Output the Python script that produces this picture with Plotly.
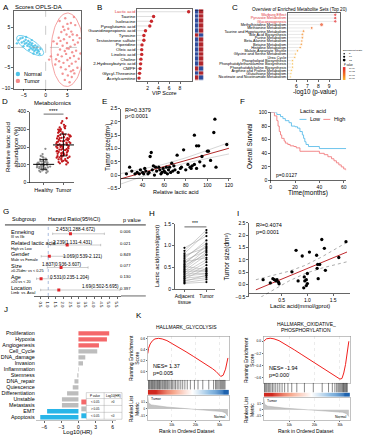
import numpy as np
import plotly.graph_objects as go

W, H = 365, 440
FONT = "Liberation Sans"

# ================= DATA =================
# A: OPLS-DA scores
normal_x = [-6.2,-5.8,-5.5,-5.3,-5.0,-4.8,-4.6,-4.4,-4.2,-4.0,-3.9,-3.7,-3.6,-3.4,-3.3,-3.1,-3.0,-2.9,-2.7,-2.6,-2.4,-2.3,-2.1,-2.0,-1.8,-1.6,-1.4,-1.2,-5.1,-4.5,-3.8,-2.8,-6.6,-1.9,-3.2]
normal_y = [1.8,2.2,1.2,2.4,1.5,0.9,1.9,1.1,0.4,1.6,0.8,0.2,1.2,-0.2,0.6,1.0,-0.5,0.3,-0.1,-0.9,0.5,-0.6,-0.2,-1.3,-0.7,-1.0,-1.6,-0.4,0.3,2.6,-0.6,-1.5,1.0,0.2,1.8]
tumor_x = [3.2,4.5,5.8,6.5,4.0,5.2,6.8,3.6,4.8,5.9,7.2,3.0,4.2,5.5,6.3,7.4,2.6,3.9,4.9,5.7,6.7,3.3,4.4,5.3,6.1,7.0,2.8,3.7,4.7,5.6,6.5,7.6,3.1,4.1,5.0,6.0,6.9,3.5,4.6,5.4,6.3,7.3,3.9,5.1,6.0,4.4,5.5,6.6,2.4,8.0,1.8,4.3,5.0,6.2,3.4,5.8,4.9,2.2,7.8,0.8,1.2]
tumor_y = [6.5,7.2,6.0,7.5,5.1,4.6,5.5,3.8,3.2,3.9,3.0,2.4,2.0,2.6,1.8,1.2,0.9,0.4,1.1,0.2,0.7,-0.5,-0.9,-0.3,-1.2,-0.8,-1.8,-2.2,-1.6,-2.6,-2.1,-2.8,-3.4,-3.8,-3.1,-4.0,-3.5,-4.9,-5.4,-4.6,-5.6,-5.0,-6.5,-6.9,-7.3,-8.0,-8.6,-6.4,-2.9,-1.5,1.5,4.3,5.8,3.2,1.6,-5.9,-0.2,-4.2,2.3,-3.0,-2.2]

# B: VIP scores
vip_names = ["Lactic acid","Taurine","Isoleucine","Pyroglutamic acid","Guanidinopropionic acid","Tyrosine",
             "Testosterone sulfate","Piperidine","Oleic acid","Linoleic acid","Choline",
             "2-Hydroxybutyric acid","CMPF","Glycyl-Threonine","Acetylcarnitine"]
vip_scores = [9.6,3.1,2.7,2.4,1.6,1.3,1.3,0.95,0.9,0.9,0.75,0.7,0.6,0.5,0.4]
vip_normal_high = [0,0,0,0,0,1,0,0,0,0,0,0,1,0,1]

# C: metabolite set enrichment
msea_sets = ["Warburg Effect","Pyruvate Metabolism","Gluconeogenesis","Methylhistidine Metabolism",
             "Methionine Metabolism","Taurine and Hypotaurine Metabolism","Bile Acid Biosynthesis",
             "Purine Metabolism","Beta-Alanine Metabolism","Betaine Metabolism","Histidine Metabolism",
             "Malate-Aspartate Shuttle","Glycine and Serine Metabolism","Urea Cycle",
             "Phospholipid Biosynthesis","Phosphatidylethanolamine Biosynthesis",
             "Phosphatidylcholine Biosynthesis","Arginine and Proline Metabolism",
             "Glutathione Metabolism","Nicotinate and Nicotinamide Metabolism"]
msea_logp = [9.55,9.55,9.55,8.3,7.4,6.65,6.55,6.55,6.5,6.45,6.35,6.1,5.9,5.85,5.65,5.65,5.65,5.55,5.5,5.45]
msea_ratio = [10.6,10.6,10.6,14.0,8.2,7.5,6.8,6.5,6.3,6.1,5.8,5.5,5.0,4.8,4.6,4.6,4.6,4.2,4.0,3.8]

# D: metabolomics lactic acid abundance (%)
healthy_vals = [55,62,68,70,72,75,78,80,82,84,85,86,88,90,91,92,94,95,96,98,99,100,101,102,104,105,106,108,
                110,112,114,115,118,120,122,125,128,130,135,140,145,150,160,190,60,66]
tumor_vals = [102,108,112,118,122,125,128,132,135,138,140,142,145,148,150,152,155,158,160,162,165,168,170,172,
              175,178,180,182,185,188,190,192,195,198,200,202,205,208,210,212,215,218,220,222,225,228,230,232,
              235,238,240,242,245,248,250,252,255,258,260,262,265,268,270,275,280,285,290,295,300,305,310,318,
              325,335,345,362,115,130,145,165,185,200,215,235,250,270,282,298,120,175,205,228,260,312]

# E: relative lactic acid vs tumor size
e_lactic = [25,28,30,33,35,37,38,40,41,42,43,45,46,47,48,49,50,51,52,53,55,56,57,58,59,60,61,62,63,64,65,66,67,
            68,69,70,72,73,75,76,78,80,82,84,85,86,88,88,90,90,92,93,95,97,100,101,103,106,107,108,118]
e_size = [0.05,0.3,0.15,0.05,0.1,0.05,0.2,0.1,0.05,0.25,0.15,0.05,0.1,0.7,0.85,0.2,0.35,0.0,0.3,0.15,0.3,0.2,
          0.05,0.1,0.25,0.15,0.1,0.3,0.05,0.2,0.3,0.1,0.45,0.15,0.35,0.2,0.75,0.1,0.25,0.3,0.95,0.2,0.4,0.3,
          0.25,0.35,1.5,0.4,1.1,0.25,1.1,0.5,0.7,0.35,0.9,0.9,0.55,1.6,2.1,0.3,1.15]

# F: Kaplan-Meier
km_low_t = [0,5,8,10,12,15,17,20,22,24,26,27,28,29,31,40,62]
km_low_s = [100,97,94,91,88,85,80,79,77,72,67,62,57,53,50,47,47]
km_high_t = [0,3,5,6,7,8,9,11,12,14,16,19,21,24,38,40,44,47,50,52,54,56,58,60,62]
km_high_s = [100,95,88,80,72,67,62,58,55,53,51,50,48,43,43,40,38,35,32,29,26,23,20,17,15]

# G: forest plot
fp_group = ["Enneking","Related lactic acid","Gender","Size","Age","Location"]
fp_compare = ["III vs IIb","High vs Low","Male vs Female","\u22650.25dm\u00b2 vs < 0.25","\u226520 vs < 20","Limb  vs. Axial"]
fp_hr = [2.453,2.239,1.069,1.837,0.531,1.69]
fp_low = [1.288,1.131,0.539,0.936,0.235,0.502]
fp_high = [4.672,4.431,2.121,3.607,1.204,5.695]
fp_p = ["0.006","0.021","0.849","0.077","0.130","0.397"]

# H: paired lactic acid
h_adjacent = [0.95,0.88,0.82,0.78,0.74,0.70,0.66,0.63,0.60,0.57,0.55,0.52,0.50,0.47,0.45,0.42,0.40,0.38,0.35,
              0.33,0.30,0.28,0.25,0.23,0.20,0.18,0.15,0.13]
h_tumor = [1.22,1.36,1.30,0.95,1.05,1.12,0.88,0.72,0.98,1.02,0.80,0.45,0.92,0.85,0.42,0.78,0.40,0.68,0.36,
           0.62,0.35,0.55,0.30,0.48,0.26,0.32,0.22,0.16]

# I: lactic acid vs tumor size
i_lactic = [0.14,0.28,0.33,0.36,0.39,0.41,0.44,0.45,0.70,0.78,0.82,0.90,0.93,0.94,0.95,0.98,1.00,1.00,1.04,
            1.18,1.19,1.20,1.21,1.24,1.28,1.33,1.35,1.61,1.75,0.98]
i_size = [0.2,0.07,0.24,0.2,0.15,0.2,0.1,0.03,0.52,1.39,0.15,1.16,-0.13,0.31,0.15,0.2,0.45,0.04,1.32,
          1.19,0.66,0.82,0.24,0.82,1.83,1.47,0.58,1.1,1.74,-0.04]

# J: log10(HR) of signatures
j_names = ["Proliferation","Hypoxia","Angiogenesis","Cell_Cycle","DNA_damage","Invasion","Inflammation",
           "Stemness","DNA_repair","Quiescence","Differentiation","Unstable","Metastasis","EMT","Apoptosis"]
j_values = [5.4,5.0,3.6,3.3,1.2,0.8,0.1,-0.2,-0.7,-1.0,-2.0,-2.9,-2.9,-5.5,-6.7]
j_significant = [1,1,1,0,0,0,0,0,0,0,0,0,0,1,1]

# K: GSEA glycolysis
k_rank = [0,300,1000,2000,3000,4500,6000,8000,10000,13000,16000,19000,22000,25000,27000,28500,29500,30500,31500,32500,33500]
k_es = [0.33,0.42,0.50,0.56,0.59,0.60,0.59,0.56,0.51,0.44,0.36,0.28,0.20,0.12,0.06,0.01,-0.04,-0.08,-0.06,0.05,0.25]
k_hits = [300,600,900,1300,1600,2000,2300,2700,3000,3400,3800,4100,4500,4900,5200,5600,6100,6500,7000,7400,7900,
          8300,8800,9300,9900,10400,11000,11600,12300,13000,13800,14600,15500,16500,17800,19500,21000,23000,
          25500,27500,28300,28800,29300,29800,30300,30700,31100,31500,31900,32300]
# L: GSEA oxidative phosphorylation
l_rank = [0,1000,2500,4000,6000,9000,12000,15000,18000,21000,24000,26500,28500,30000,30800,31500,32200,32800,33500]
l_es = [0.0,0.04,0.05,0.04,0.01,-0.06,-0.14,-0.22,-0.30,-0.38,-0.46,-0.52,-0.58,-0.62,-0.61,-0.52,-0.38,-0.2,0.0]
l_hits = [200,500,900,1300,1800,2300,2800,3400,4000,4700,5500,6300,7200,8200,9500,11000,13000,16000,19500,
          23000,25500,27000,28000,28700,29200,29600,30000,30400,30800,31100,31400,31700,32000,32300,32600,32900]
# ranked list metric (shared)
metric_rank = [0,300,1500,4000,8000,12000,16000,20000,24000,28000,31000,32500,33500]
metric_val = [0.9,0.45,0.3,0.22,0.14,0.08,0.03,-0.02,-0.07,-0.13,-0.2,-0.3,-0.55]

# ================= HELPERS =================
fig = go.Figure()
AX, ANN, SHP = {}, [], []
cnt = [0]


def axes(x0, x1, y0, y1, xa=None, ya=None):
    cnt[0] += 1
    s = "" if cnt[0] == 1 else str(cnt[0])
    base = dict(showgrid=False, zeroline=False, showline=True, linecolor="black", linewidth=0.6,
                ticks="outside", ticklen=2, tickwidth=0.6, tickcolor="black",
                tickfont=dict(size=5, family=FONT, color="black"))
    X = dict(base, domain=[x0 / W, x1 / W], anchor="y" + s)
    Y = dict(base, domain=[1 - y1 / H, 1 - y0 / H], anchor="x" + s)
    X.update(xa or {})
    Y.update(ya or {})
    AX["xaxis" + s] = X
    AX["yaxis" + s] = Y
    return "x" + s, "y" + s


def T(text, x, y, size=5, color="black", xa="center", ya="middle", angle=0):
    ANN.append(dict(text=text, x=x / W, y=1 - y / H, xref="paper", yref="paper", showarrow=False,
                    font=dict(size=size, family=FONT, color=color), xanchor=xa, yanchor=ya,
                    textangle=angle))


def L(x0, y0, x1, y1, color="black", width=0.6, dash="solid"):
    SHP.append(dict(type="line", xref="paper", yref="paper", x0=x0 / W, x1=x1 / W, y0=1 - y0 / H,
                    y1=1 - y1 / H, line=dict(color=color, width=width, dash=dash)))


def R(x0, y0, x1, y1, fill, line="rgba(0,0,0,0)", width=0):
    SHP.append(dict(type="rect", xref="paper", yref="paper", x0=x0 / W, x1=x1 / W, y0=1 - y1 / H,
                    y1=1 - y0 / H, fillcolor=fill, line=dict(color=line, width=width)))


def C(cx, cy, r, fill):
    SHP.append(dict(type="circle", xref="paper", yref="paper", x0=(cx - r) / W, x1=(cx + r) / W,
                    y0=1 - (cy + r) / H, y1=1 - (cy - r) / H, fillcolor=fill, line=dict(width=0)))


def ellipse(xs, ys, k=2.2, n=90):
    x = np.asarray(xs, float); y = np.asarray(ys, float)
    vals, vecs = np.linalg.eigh(np.cov(x, y))
    t = np.linspace(0, 2 * np.pi, n)
    pts = vecs @ (np.sqrt(vals)[:, None] * np.stack([np.cos(t), np.sin(t)])) * k
    return x.mean() + pts[0], y.mean() + pts[1]


def linfit(xs, ys, grid):
    x = np.asarray(xs, float); y = np.asarray(ys, float)
    b, a = np.polyfit(x, y, 1)
    n = len(x)
    s = np.sqrt(np.sum((y - (a + b * x)) ** 2) / (n - 2))
    se = s * np.sqrt(1 / n + (grid - x.mean()) ** 2 / np.sum((x - x.mean()) ** 2))
    yh = a + b * grid
    return yh, yh - 2.0 * se, yh + 2.0 * se


# panel letters
for lab, px, py in [("A", 5, 5), ("B", 99, 5), ("C", 236, 5), ("D", 4, 100), ("E", 104, 100), ("F", 244, 100),
                    ("G", 5, 211), ("H", 152, 213), ("I", 239, 213), ("J", 5, 311), ("K", 139, 317)]:
    T(lab, px, py, size=8)

# ================= A =================
CYAN, PINK = "#4EC3E8", "#F28A8A"
xa, ya = axes(13, 81, 8, 87, xa=dict(range=[-7.3, 8.2], tickvals=[-5, 0, 5], mirror=True),
              ya=dict(range=[-10.2, 9.0], tickvals=[-10, -5, 0, 5], mirror=True))
SHP.append(dict(type="line", xref=xa, yref=ya + " domain", x0=0, x1=0, y0=0, y1=1,
                line=dict(color="#999", width=0.5, dash="dash")))
SHP.append(dict(type="line", xref=xa + " domain", yref=ya, x0=0, x1=1, y0=0, y1=0,
                line=dict(color="#999", width=0.5, dash="dash")))
for xs, ys, col in [(normal_x, normal_y, CYAN), (tumor_x, tumor_y, PINK)]:
    ex, ey = ellipse(xs, ys)
    fig.add_trace(go.Scatter(x=ex, y=ey, mode="lines", line=dict(color=col, width=0.8), xaxis=xa, yaxis=ya))
    fig.add_trace(go.Scatter(x=xs, y=ys, mode="markers", marker=dict(size=2.4, color=col, opacity=0.9),
                             xaxis=xa, yaxis=ya))
T("Scores OPLS-DA", 12, 4.5, size=6, xa="left")
C(17, 72, 2.2, CYAN); T("Normal", 21, 72, size=5.5, xa="left")
C(17, 79, 2.2, PINK); T("Tumor", 21, 79, size=5.5, xa="left")

# ================= B =================
RED = "#C8282C"
ticktext_b = [('<span style="color:#E0353B">%s</span>' % n) if i == 0 else n for i, n in enumerate(vip_names)]
xa, ya = axes(137, 193, 6, 79, xa=dict(range=[0, 10.3], tickvals=[2, 4, 6, 8], mirror=True),
              ya=dict(type="category", categoryorder="array", categoryarray=vip_names[::-1], tickmode="array",
                      tickvals=vip_names, ticktext=ticktext_b, range=[-0.6, 14.6], ticks="", mirror=True,
                      tickfont=dict(size=4.4, family=FONT, color="black")))
lx, ly = [], []
for n, v in zip(vip_names, vip_scores):
    lx += [0, v, None]; ly += [n, n, None]
fig.add_trace(go.Scatter(x=lx, y=ly, mode="lines", line=dict(color="#C8C8C8", width=0.6), xaxis=xa, yaxis=ya))
fig.add_trace(go.Scatter(x=vip_scores, y=vip_names, mode="markers", marker=dict(size=3.4, color=RED),
                         xaxis=xa, yaxis=ya))
T("VIP Score", 165, 91, size=5.5)
xa, ya = axes(195.5, 204.5, 6, 79, xa=dict(visible=False, range=[-0.5, 1.5]),
              ya=dict(visible=False, type="category", categoryorder="array", categoryarray=vip_names[::-1],
                      range=[-0.6, 14.6]))
fig.add_trace(go.Heatmap(x=[0, 1], y=vip_names, z=[[v, 1 - v] for v in vip_normal_high],
                         colorscale=[[0, "#2D4B9B"], [0.5, "#2D4B9B"], [0.5, "#B0242A"], [1, "#B0242A"]],
                         showscale=False, xgap=0.6, ygap=0.6, xaxis=xa, yaxis=ya))
T("Nor", 197.7, 7.5, size=2.5); T("Tu", 202.2, 7.5, size=2.5)

# ================= C =================
ticktext_c = [('<span style="color:#E0353B">%s</span>' % n) if i < 3 else n for i, n in enumerate(msea_sets)]
xa, ya = axes(289, 342, 10, 77, xa=dict(range=[5.2, 10], tickvals=[6, 7, 8, 9], mirror=True),
              ya=dict(type="category", categoryorder="array", categoryarray=msea_sets[::-1], tickmode="array",
                      tickvals=msea_sets, ticktext=ticktext_c, range=[-0.6, 19.6], ticks="", mirror=True,
                      tickfont=dict(size=3.8, family=FONT, color="black")))
lx, ly = [], []
for n, v in zip(msea_sets, msea_logp):
    lx += [5.2, v, None]; ly += [n, n, None]
fig.add_trace(go.Scatter(x=lx, y=ly, mode="lines", line=dict(color="#D0D0D0", width=0.5), xaxis=xa, yaxis=ya))
fig.add_trace(go.Scatter(
    x=msea_logp, y=msea_sets, mode="markers", xaxis=xa, yaxis=ya,
    marker=dict(size=[1.6 + r * 0.17 for r in msea_ratio], color=msea_logp, cmin=5.4, cmax=9.6,
                colorscale=[[0, "#FBC02D"], [0.35, "#F57C1F"], [1, "#E5262B"]], showscale=False)))
T("Overview of Enriched Metabolite Sets (Top 20)", 301, 7, size=4.6)
T("-log10 (p-value)", 317, 90.5, size=6.3)
T("Enrichment Ratio", 343, 48, size=2.5, xa="left")
for k, (yy, rr) in enumerate([(51.5, 0.8), (54.5, 1.1), (57.8, 1.4)]):
    C(346, yy, rr, "black")
    T(["5", "10", "15"][k], 349, yy, size=2.5, xa="left")
T("P value", 344, 63, size=2.6, xa="left")
# p-value colour key (gradient drawn by a tiny heatmap of the same colorscale)
xa, ya = axes(344.5, 347.5, 65, 78, xa=dict(visible=False, range=[-0.5, 0.5]),
              ya=dict(visible=False, range=[5.4, 9.6]))
fig.add_trace(go.Heatmap(x=[0], y=[5.4, 6.5, 7.5, 8.5, 9.6], z=[[5.4], [6.5], [7.5], [8.5], [9.6]],
                         zsmooth="best", zmin=5.4, zmax=9.6, showscale=False, xaxis=xa, yaxis=ya,
                         colorscale=[[0, "#FBC02D"], [0.35, "#F57C1F"], [1, "#E5262B"]]))
for lab, yy in [("1e-06", 76), ("1e-07", 72.5), ("1e-08", 69), ("1e-09", 66)]:
    T(lab, 348.5, yy, size=2.3, xa="left")

# ================= D =================
GREY = "#8C8C8C"; DRED = "#C0171C"
xa, ya = axes(29, 74, 110, 182, xa=dict(range=[-0.7, 1.55], tickvals=[0, 1], ticktext=["Healthy", "Tumor"],
                                         tickfont=dict(size=5.5, family=FONT, color="black")),
              ya=dict(range=[0, 400], tickvals=[0, 100, 200, 300, 400]))
for pos, vals, col in [(0, healthy_vals, GREY), (1, tumor_vals, DRED)]:
    fig.add_trace(go.Box(y=vals, x0=pos, boxpoints="all", jitter=1, pointpos=0, width=0.8,
                         line=dict(width=0), fillcolor="rgba(0,0,0,0)",
                         marker=dict(size=2.3, color=col), xaxis=xa, yaxis=ya))
    fig.add_trace(go.Scatter(x=[pos], y=[np.mean(vals)], mode="markers", xaxis=xa, yaxis=ya,
                             marker=dict(symbol="line-ew", size=15, line=dict(width=1, color="black")),
                             error_y=dict(type="data", array=[np.std(vals)], color="black", thickness=0.8,
                                          width=3.5)))
SHP.append(dict(type="line", xref=xa, yref=ya, x0=0, x1=1, y0=385, y1=385, line=dict(color="#888", width=1.2)))
T("****", 52.5, 109, size=5.5)
T("Metabolomics", 52, 101, size=6)
T("Relative lactic acid<br>abundance (%)", 11, 146, size=6, angle=-90)

# ================= E =================
xa, ya = axes(121, 232, 107, 188, xa=dict(range=[20, 122], tickvals=[40, 60, 80, 100, 120], anchor="free",
                                           position=1 - 178 / H),
              ya=dict(range=[-0.5, 2.5], tickvals=[-0.5, 0, 0.5, 1, 1.5, 2, 2.5], tickformat=".1f"))
g = np.linspace(20, 120, 60)
yh, lo, hi = linfit(e_lactic, e_size, g)
for yy, col, wd in [(lo, "#BBBBBB", 0.6), (hi, "#BBBBBB", 0.6), (yh, "#B22A2A", 1.0)]:
    fig.add_trace(go.Scatter(x=g, y=yy, mode="lines", line=dict(color=col, width=wd), xaxis=xa, yaxis=ya))
fig.add_trace(go.Scatter(x=e_lactic, y=e_size, mode="markers", marker=dict(size=3.3, color="black"),
                         xaxis=xa, yaxis=ya))
T("R\u00b2=0.3379", 123, 108, size=5.5, xa="left")
T("p<0.0001", 123, 115, size=5.5, xa="left")
T("Tumor size(dm\u00b3)", 108, 147, size=6.5, angle=-90)
T("Relative lactic acid", 176, 192, size=5.5)

# ================= F =================
BLUE_KM, RED_KM = "#5DBDEA", "#F27C7E"
xa, ya = axes(272, 348, 111, 180, xa=dict(range=[0, 62], tickvals=[0, 20, 40, 60]),
              ya=dict(range=[0, 100], tickvals=[0, 20, 40, 60, 80, 100]))
fig.add_trace(go.Scatter(x=km_low_t, y=km_low_s, mode="lines", line=dict(color=BLUE_KM, width=0.9, shape="hv"),
                         xaxis=xa, yaxis=ya))
fig.add_trace(go.Scatter(x=km_high_t, y=km_high_s, mode="lines", line=dict(color=RED_KM, width=0.9, shape="hv"),
                         xaxis=xa, yaxis=ya))
T("Lactic acid", 315, 109.5, size=5.5)
L(301, 118, 308, 118, BLUE_KM, 0.9); T("Low", 310, 118, size=5.5, xa="left")
L(325, 118, 332, 118, RED_KM, 0.9); T("High", 334, 118, size=5.5, xa="left")
T("p=0.0127", 275, 174, size=5, xa="left")
T("Overall Survival", 250, 145, size=6.5, angle=-90)
T("Time(months)", 310, 193, size=6.5)

# ================= G =================
rows = list(range(len(fp_group)))
xa, ya = axes(33, 121, 226, 297, xa=dict(range=[0.05, 5.76], tickvals=[0.5, 1, 1.5, 2, 2.5, 3, 3.5, 4, 4.5, 5, 5.5],
                                          tickformat=".1f", tickfont=dict(size=4.2, family=FONT, color="black")),
              ya=dict(visible=False, range=[5.53, -0.70]))
SHP.append(dict(type="line", xref=xa, yref=ya + " domain", x0=1, x1=1, y0=0, y1=1,
                line=dict(color="#6F8FC8", width=0.6, dash="dot")))
fig.add_trace(go.Scatter(x=fp_hr, y=rows, mode="markers", xaxis=xa, yaxis=ya,
                         marker=dict(size=3, color="#E0262B", symbol="square"),
                         error_x=dict(type="data", symmetric=False,
                                      array=[h - m for h, m in zip(fp_high, fp_hr)],
                                      arrayminus=[m - l for m, l in zip(fp_hr, fp_low)],
                                      color="#999", thickness=0.5, width=1.2)))
T("Subgroup", 9, 219, size=5.5, xa="left")
T("Hazard Ratio(95%CI)", 74, 219, size=5.5)
T("p value", 132, 220, size=5.5)
L(4, 225, 146, 225, "black", 0.8)
L(121, 297, 146, 297, "black", 0.6)
text_pos = [(53, 230), (50, 243), (61, 256.5), (39, 265), (47, 278), (80, 287)]
for i in rows:
    yy = 234 + 11.4 * i
    T(fp_group[i], 8, yy - 2, size=5.5, xa="left")
    T(fp_compare[i], 8, yy + 3.5, size=3.8, xa="left")
    T(fp_p[i], 126, yy - 2, size=4.2)
    tx, ty = text_pos[i]
    T("%s(%s-%s)" % (fp_hr[i], fp_low[i], fp_high[i]), tx, ty, size=4.6, xa="left")

# ================= H =================
xa, ya = axes(175, 216, 224, 290, xa=dict(range=[-0.45, 1.4], tickvals=[0, 1],
                                           ticktext=["Adjacent<br>tissue", "Tumor"],
                                           tickfont=dict(size=5, family=FONT, color="black")),
              ya=dict(range=[0, 1.5], tickvals=[0, 0.5, 1, 1.5], ticktext=["0", "0.5", "1.0", "1.5"]))
px_, py_ = [], []
for a, t in zip(h_adjacent, h_tumor):
    px_ += [0, 1, None]; py_ += [a, t, None]
fig.add_trace(go.Scatter(x=px_, y=py_, mode="lines", line=dict(color="#A0A0A0", width=0.5), xaxis=xa, yaxis=ya))
fig.add_trace(go.Scatter(x=[0] * len(h_adjacent) + [1] * len(h_tumor), y=h_adjacent + h_tumor, mode="markers",
                         marker=dict(size=2.2, color="black"), xaxis=xa, yaxis=ya))
SHP.append(dict(type="line", xref=xa, yref="paper", x0=0, x1=1, y0=1 - 227 / H, y1=1 - 227 / H,
                line=dict(color="black", width=0.6)))
T("***", 196, 223.5, size=5)
T("Lactic acid(mmol/gprot)", 158, 257, size=6, angle=-90)

# ================= I =================
xa, ya = axes(250, 352, 223, 298, xa=dict(range=[-0.135, 1.83], tickvals=[0.5, 1.0, 1.5], tickformat=".1f",
                                           anchor="free", position=1 - 294 / H),
              ya=dict(range=[-0.5, 2.5], tickvals=[-0.5, 0, 0.5, 1, 1.5, 2, 2.5], tickformat=".1f"))
g = np.linspace(0.0, 1.77, 60)
yh, lo, hi = linfit(i_lactic, i_size, g)
for yy, col, wd, ds in [(lo, "#888", 0.7, "dot"), (hi, "#888", 0.7, "dot"), (yh, "#C0282C", 1.0, "solid")]:
    fig.add_trace(go.Scatter(x=g, y=yy, mode="lines", line=dict(color=col, width=wd, dash=ds), xaxis=xa, yaxis=ya))
fig.add_trace(go.Scatter(x=i_lactic, y=i_size, mode="markers", marker=dict(size=3.3, color="black"),
                         xaxis=xa, yaxis=ya))
T("R\u00b2=0.4074", 255, 225, size=5.5, xa="left")
T("p=0.0001", 255, 232, size=5.5, xa="left")
T("Tumor size(dm\u00b3)", 228, 258, size=6.5, angle=-90)
T("Lactic acid(mmol/gprot)", 301, 307.5, size=5.8)

# ================= J =================
J_RED, J_GREY, J_BLUE = "#F4686A", "#BDBDBD", "#29B5E8"
j_colors = [(J_RED if v > 0 else J_BLUE) if s else J_GREY for v, s in zip(j_values, j_significant)]
xa, ya = axes(35, 116, 332, 423, xa=dict(range=[-7.5, 6.6], tickvals=[-6, -3, 0, 3, 6], linecolor="#999",
                                          tickfont=dict(size=5, family=FONT, color="black")),
              ya=dict(type="category", categoryorder="array", categoryarray=j_names[::-1], showline=False,
                      tickmode="array", tickvals=j_names, ticktext=j_names,
                      ticks="", tickfont=dict(size=5.4, family=FONT, color="black")))
fig.add_trace(go.Bar(x=j_values, y=j_names, orientation="h", marker=dict(color=j_colors, line=dict(width=0)),
                     width=0.72, xaxis=xa, yaxis=ya))
T("Log10(HR)", 77, 434.5, size=6)
R(86, 395, 122, 422, "white", "#999", 0.4)
for yy in [401, 408, 415]:
    L(86, yy, 122, yy, "#999", 0.4)
L(104, 395, 104, 422, "#999", 0.4)
T("P value", 95, 398, size=3); T("Log10(HR)", 113, 398, size=3)
T("< 0.05", 95, 404.5, size=3); T(">0", 113, 404.5, size=3)
T("> 0.05", 95, 411.5, size=3)
T("< 0.05", 95, 418.5, size=3); T("<0", 113, 418.5, size=3)
R(81, 402, 86, 407, J_RED); R(81, 409, 86, 414, J_GREY); R(81, 416, 86, 421, J_BLUE)


# ================= K / L (GSEA) =================
def gsea(x0, x1, ytop, ybar, ygrad, ymet, ybot, rank, es, es_rng, es_ticks, hits):
    xr = [0, 34000]
    xa, ya = axes(x0, x1, ytop, ybar, xa=dict(range=xr, tickvals=[10000, 20000, 30000], showticklabels=False,
                                              ticks="", showgrid=True, gridcolor="#D8D8D8", griddash="dot",
                                              gridwidth=0.5, linecolor="#999", mirror=True),
                  ya=dict(range=es_rng, tickvals=es_ticks, tickformat=".1f", linecolor="#999", mirror=True,
                          tickfont=dict(size=3.3, family=FONT, color="black"), ticklen=1.5))
    fig.add_trace(go.Scatter(x=rank, y=es, mode="lines", line=dict(color="#F0201E", width=1.0), xaxis=xa, yaxis=ya))
    xa, ya = axes(x0, x1, ybar, ygrad, xa=dict(range=xr, visible=False), ya=dict(range=[0, 1], visible=False))
    bx, by = [], []
    for h in hits:
        bx += [h, h, None]; by += [0, 1, None]
    fig.add_trace(go.Scatter(x=bx, y=by, mode="lines", line=dict(color="rgba(0,0,0,0.85)", width=0.55),
                             xaxis=xa, yaxis=ya))
    xa, ya = axes(x0, x1, ygrad, ymet - 0.5, xa=dict(range=xr, visible=False), ya=dict(range=[0, 1], visible=False))
    fig.add_trace(go.Heatmap(x=metric_rank, y=[0, 1], z=[metric_val, metric_val], zsmooth="best",
                             zmin=-0.25, zmax=0.25, showscale=False, xaxis=xa, yaxis=ya,
                             colorscale=[[0, "#1F63AE"], [0.3, "#8DBCE3"], [0.5, "#FFFFFF"],
                                         [0.7, "#F7A98E"], [1, "#D0281E"]]))
    xa, ya = axes(x0, x1, ymet, ybot, xa=dict(range=xr, tickvals=[10000, 20000, 30000], showgrid=True,
                                              gridcolor="#E0E0E0", griddash="dot", gridwidth=0.5,
                                              linecolor="#999", mirror=True, ticklen=1.5,
                                              tickfont=dict(size=3.2, family=FONT, color="black")),
                  ya=dict(range=[-0.85, 1.0], tickvals=[-0.5, 0, 0.5], linecolor="#999", mirror=True,
                          ticklen=1.5, tickfont=dict(size=2.8, family=FONT, color="black")))
    fig.add_trace(go.Scatter(x=metric_rank, y=metric_val, mode="lines", fill="tozeroy",
                             fillcolor="#C4C4C4", line=dict(color="#AAAAAA", width=0.5), xaxis=xa, yaxis=ya))


gsea(148, 230, 338, 382, 392, 398, 423, k_rank, k_es, [-0.14, 0.635], [0, 0.2, 0.4, 0.6], k_hits)
T("HALLMARK_GLYCOLYSIS", 187, 328, size=5)
T("NES= 1.37", 151, 368, size=5.5, xa="left")
T("p=0.005", 151, 375, size=5.5, xa="left")
T("Tumor", 149, 401, size=3.5, xa="left")
T("Normal", 229, 419.5, size=3.5, xa="right")
T("Running Enrichment<br>Score", 134, 360, size=5, angle=-90)
T("Ranked List<br>Metric", 134, 411, size=5, angle=-90)
T("Rank in Ordered Dataset", 188, 434, size=5)

gsea(265, 352, 338, 385, 395, 400, 423, l_rank, l_es, [-0.68, 0.08], [-0.6, -0.4, -0.2, 0], l_hits)
T("HALLMARK_OXIDATIVE_", 308, 325, size=5)
T("PHOSPHORYLATION", 308, 332, size=5)
T("NES= -1.94", 268, 370, size=5.5, xa="left")
T("p=0.000", 268, 377, size=5.5, xa="left")
T("Tumor", 266, 403, size=3.5, xa="left")
T("Normal", 351, 419.5, size=3.5, xa="right")
T("Running Enrichment<br>Score", 250, 362, size=5, angle=-90)
T("Ranked List<br>Metric", 250, 412, size=5, angle=-90)
T("Rank in Ordered Dataset", 308, 434, size=5)

fig.update_layout(width=W, height=H, margin=dict(l=0, r=0, t=0, b=0), paper_bgcolor="white",
                  plot_bgcolor="rgba(0,0,0,0)", showlegend=False, annotations=ANN, shapes=SHP,
                  font=dict(family=FONT, color="black"), **AX)
fig.write_html("out.html", config={"displayModeBar": False, "staticPlot": True},
               post_script="document.body.style.margin='0px';")
